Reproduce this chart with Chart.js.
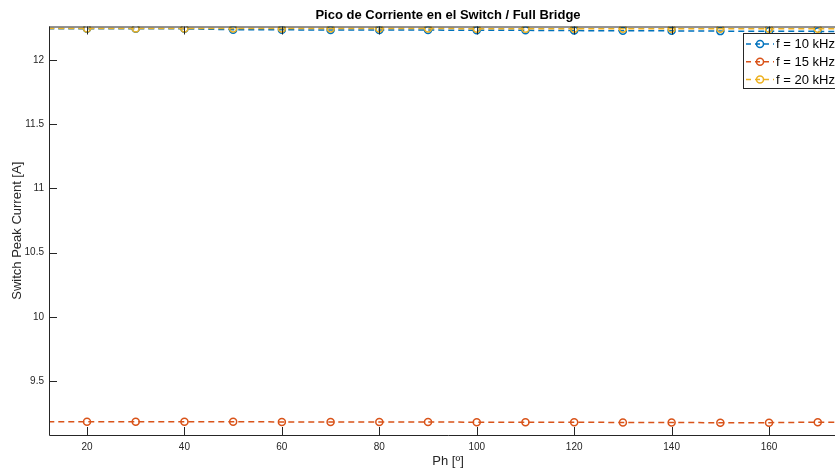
<!DOCTYPE html>
<html>
<head>
<meta charset="utf-8">
<script src="https://cdn.jsdelivr.net/npm/chart.js@4/dist/chart.umd.min.js"></script>
<style>
  html, body { margin: 0; padding: 0; background: #ffffff; overflow: hidden; }
  #wrap { width: 860px; height: 471px; position: relative; }
</style>
</head>
<body>
<div id="wrap"><canvas id="chart" width="860" height="471"></canvas></div>
<script>
// Phase sweep (degrees) and peak switch current per switching frequency
const phase = [10, 20, 30, 40, 50, 60, 70, 80, 90, 100, 110, 120, 130, 140, 150, 160, 170, 180];
const peak10k = [12.244, 12.244, 12.244, 12.243, 12.236, 12.235, 12.234, 12.233, 12.233, 12.232, 12.231, 12.229, 12.228, 12.227, 12.225, 12.224, 12.223, 12.222];
const peak15k = [9.183, 9.183, 9.182, 9.182, 9.182, 9.181, 9.181, 9.180, 9.180, 9.179, 9.178, 9.178, 9.177, 9.176, 9.175, 9.175, 9.179, 9.178];
const peak20k = [12.245, 12.245, 12.245, 12.245, 12.245, 12.245, 12.245, 12.245, 12.245, 12.244, 12.244, 12.244, 12.244, 12.244, 12.244, 12.244, 12.244, 12.244];

const seriesLabels = ['f = 10 kHz', 'f = 15 kHz', 'f = 20 kHz'];
const seriesColors = ['#0072BD', '#D95319', '#EDB120'];

const xTicks = [20, 40, 60, 80, 100, 120, 140, 160];
const yTicks = [9.5, 10, 10.5, 11, 11.5, 12];

const AXIS = '#262626';
const FONT = 'Arial, "Liberation Sans", Helvetica, sans-serif';

function makeSeries(label, values, color, order) {
  return {
    label: label,
    data: phase.map((x, i) => ({ x: x, y: values[i] })),
    borderColor: color,
    backgroundColor: 'rgba(0,0,0,0)',
    borderWidth: 1.5,
    borderDash: [6, 4],
    pointStyle: 'circle',
    pointRadius: 3.5,
    pointBorderWidth: 1.5,
    pointBorderColor: color,
    pointBackgroundColor: 'rgba(0,0,0,0)',
    tension: 0,
    order: order
  };
}

// Box, inward tick marks, title and the in-axes legend
const frame = {
  id: 'frame',
  afterDatasetsDraw(chart) {
    const { ctx, chartArea: a, scales } = chart;
    ctx.save();
    ctx.strokeStyle = AXIS;
    ctx.lineWidth = 1;
    ctx.beginPath();
    ctx.moveTo(a.left + 0.5, a.top);
    ctx.lineTo(a.left + 0.5, a.bottom + 0.5);
    ctx.lineTo(a.right, a.bottom + 0.5);
    ctx.moveTo(a.left, a.top + 0.5);
    ctx.lineTo(a.right, a.top + 0.5);
    xTicks.forEach(v => {
      const px = Math.round(scales.x.getPixelForValue(v)) + 0.5;
      ctx.moveTo(px, a.bottom);
      ctx.lineTo(px, a.bottom - 8);
      ctx.moveTo(px, a.top);
      ctx.lineTo(px, a.top + 8);
    });
    yTicks.forEach(v => {
      const py = Math.round(scales.y.getPixelForValue(v)) + 0.5;
      ctx.moveTo(a.left, py);
      ctx.lineTo(a.left + 8, py);
    });
    ctx.stroke();

    // title
    ctx.fillStyle = '#000000';
    ctx.font = 'bold 13px ' + FONT;
    ctx.textAlign = 'center';
    ctx.textBaseline = 'middle';
    ctx.fillText('Pico de Corriente en el Switch / Full Bridge', (a.left + a.right) / 2, 15);

    // legend
    const lx = 743.5, ly = 33.5, lw = 130, lh = 55;
    ctx.fillStyle = '#ffffff';
    ctx.fillRect(lx, ly, lw, lh);
    ctx.strokeStyle = AXIS;
    ctx.strokeRect(lx, ly, lw, lh);
    ctx.font = '13px ' + FONT;
    ctx.textAlign = 'left';
    chart.data.datasets.forEach((ds, i) => {
      const cy = 44 + i * 17.8;
      ctx.strokeStyle = ds.borderColor;
      ctx.lineWidth = 1.5;
      ctx.setLineDash([5, 4]);
      ctx.beginPath();
      ctx.moveTo(746, cy);
      ctx.lineTo(774, cy);
      ctx.stroke();
      ctx.setLineDash([]);
      ctx.beginPath();
      ctx.arc(760, cy, 3.5, 0, Math.PI * 2);
      ctx.stroke();
      ctx.fillStyle = '#000000';
      ctx.fillText(ds.label, 776, cy + 0.5);
    });
    ctx.restore();
  }
};

new Chart(document.getElementById('chart'), {
  type: 'line',
  data: {
    datasets: [
      makeSeries(seriesLabels[0], peak10k, seriesColors[0], 2),
      makeSeries(seriesLabels[1], peak15k, seriesColors[1], 1),
      makeSeries(seriesLabels[2], peak20k, seriesColors[2], 0)
    ]
  },
  options: {
    responsive: false,
    animation: false,
    layout: { padding: { left: 0, right: 13, top: 26.5, bottom: 0 } },
    plugins: {
      legend: { display: false },
      tooltip: { enabled: false }
    },
    scales: {
      x: {
        type: 'linear',
        min: 12.2,
        max: 176,
        afterBuildTicks: s => { s.ticks = xTicks.map(v => ({ value: v })); },
        afterFit: s => { s.height = 36; },
        grid: { display: false, drawTicks: false },
        border: { display: false },
        ticks: { color: AXIS, padding: 6, font: { family: FONT, size: 10 }, maxRotation: 0, callback: v => String(v) },
        title: {
          display: true,
          text: 'Ph [º]',
          color: AXIS,
          font: { family: FONT, size: 13 },
          padding: { top: 0, bottom: 2 }
        }
      },
      y: {
        type: 'linear',
        min: 9.079,
        max: 12.261,
        afterBuildTicks: s => { s.ticks = yTicks.map(v => ({ value: v })); },
        afterFit: s => { s.width = 49; },
        grid: { display: false, drawTicks: false },
        border: { display: false },
        ticks: { color: AXIS, padding: 5, font: { family: FONT, size: 10 }, callback: v => String(v) },
        title: {
          display: true,
          text: 'Switch Peak Current [A]',
          color: AXIS,
          font: { family: FONT, size: 13 },
          padding: { top: 10, bottom: 0 }
        }
      }
    }
  },
  plugins: [frame]
});
</script>
</body>
</html>
